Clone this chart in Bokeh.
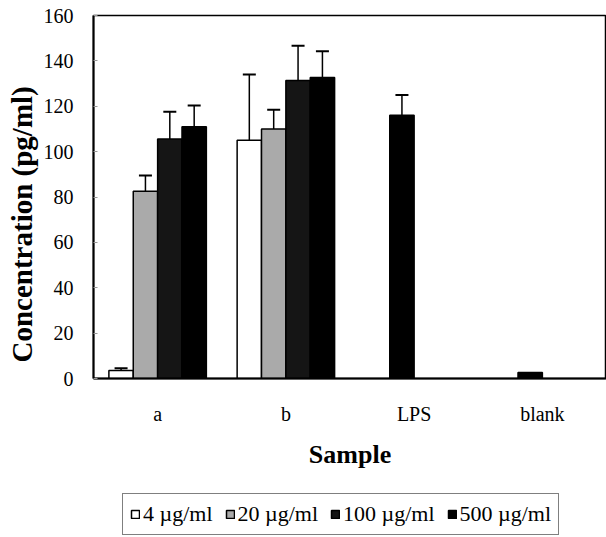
from bokeh.plotting import figure
from bokeh.layouts import column
from bokeh.models import (ColumnDataSource, FactorRange, Range1d, FixedTicker, Whisker,
                          TeeHead, Legend, LegendItem, Title)
from bokeh.transform import dodge
from bokeh.embed import file_html
from bokeh.resources import INLINE

# ---- data ----
samples = ["a", "b", "LPS", "blank"]
series_labels = ["4 \u00b5g/ml", "20 \u00b5g/ml", "100 \u00b5g/ml", "500 \u00b5g/ml"]
conc_4 = [3.5, 105.0, None, None]
err_4 = [1.0, 29.0, None, None]
conc_20 = [82.5, 110.0, None, None]
err_20 = [7.0, 8.5, None, None]
conc_100 = [105.6, 131.3, None, None]
err_100 = [12.0, 15.4, None, None]
conc_500 = [111.0, 132.7, None, None]
err_500 = [9.3, 11.5, None, None]
control = [None, None, 116.0, 2.6]
err_control = [None, None, 9.0, None]
y_ticks = [0, 20, 40, 60, 80, 100, 120, 140, 160]

SERIF = "Liberation Serif"
W = 0.19

p = figure(width=606, height=492, x_range=FactorRange(factors=samples, range_padding=0),
           y_range=Range1d(0, 160), output_backend="svg", toolbar_location=None,
           min_border_left=93, min_border_right=0, min_border_top=15, min_border_bottom=114)
p.grid.visible = False
p.outline_line_color = "black"
p.outline_line_width = 1.5
p.background_fill_color = "white"
p.border_fill_color = "white"

styles = [
    dict(fill_color="white"),
    dict(fill_color="#aaaaaa"),
    dict(fill_color="#151515"),
    dict(fill_color="#000000"),
]
all_vals = [conc_4, conc_20, conc_100, conc_500]
all_errs = [err_4, err_20, err_100, err_500]


def add_errors(vals, errs, off):
    ecats = [c for c, v, e in zip(samples, vals, errs) if v is not None and e is not None]
    lo = [v for v, e in zip(vals, errs) if v is not None and e is not None]
    hi = [v + e for v, e in zip(vals, errs) if v is not None and e is not None]
    esrc = ColumnDataSource(dict(cat=ecats, lower=lo, upper=hi))
    p.add_layout(Whisker(base=dodge("cat", off, range=p.x_range), lower="lower", upper="upper",
                         source=esrc, dimension="height", line_color="black", line_width=1.5,
                         lower_head=None,
                         upper_head=TeeHead(size=13, line_width=2, line_color="black")))


sources = []
for k, (vals, errs, st) in enumerate(zip(all_vals, all_errs, styles)):
    cats = [c for c, v in zip(samples, vals) if v is not None]
    tops = [v for v in vals if v is not None]
    src = ColumnDataSource(dict(cat=cats, top=tops))
    sources.append(src)
    off = (k - 1.5) * W
    p.vbar(x=dodge("cat", off, range=p.x_range), top="top", width=W, source=src,
           line_color="black", line_width=1.5, **st)
    add_errors(vals, errs, off)

# control bars (LPS / blank)
ccats = [c for c, v in zip(samples, control) if v is not None]
ctops = [v for v in control if v is not None]
csrc = ColumnDataSource(dict(cat=ccats, top=ctops))
p.vbar(x=dodge("cat", -0.5 * W, range=p.x_range), top="top", width=W, source=csrc,
       fill_color="black", line_color="black", line_width=1.5)
add_errors(control, err_control, -0.5 * W)

# axes
p.yaxis.ticker = FixedTicker(ticks=y_ticks)
p.yaxis.major_label_text_font = SERIF
p.yaxis.major_label_text_font_size = "20px"
p.yaxis.major_label_text_color = "black"
p.yaxis.major_label_standoff = 20
p.yaxis.major_tick_in = 4
p.yaxis.major_tick_out = 0
p.yaxis.major_tick_line_color = "#999999"
p.yaxis.minor_tick_line_color = None
p.yaxis.axis_line_width = 2
p.yaxis.axis_line_color = "black"

p.xaxis.major_label_text_font = SERIF
p.xaxis.major_label_text_font_size = "20px"
p.xaxis.major_label_text_color = "black"
p.xaxis.major_label_standoff = 18
p.xaxis.major_tick_line_color = None
p.xaxis.axis_line_width = 2
p.xaxis.axis_line_color = "black"
p.xaxis.axis_label = "Sample"
p.xaxis.axis_label_text_font = SERIF
p.xaxis.axis_label_text_font_size = "26px"
p.xaxis.axis_label_text_font_style = "bold"
p.xaxis.axis_label_text_color = "black"
p.xaxis.axis_label_standoff = 12

ytitle = Title(text="Concentration (pg/ml)", align="left", offset=16,
               text_font=SERIF, text_font_size="29px", text_font_style="bold",
               text_color="black", standoff=5)
p.add_layout(ytitle, "left")

# ---- legend strip ----
lg = figure(width=606, height=45, output_backend="svg", toolbar_location=None,
            x_axis_type=None, y_axis_type=None,
            min_border_left=93, min_border_right=0, min_border_top=0, min_border_bottom=0)
lg.grid.visible = False
lg.outline_line_color = None
lg.border_fill_color = "white"
leg_renderers = [lg.vbar(x="top", top="top", width=1, source=src, line_color="black",
                         line_width=1.5, visible=False, **st)
                 for src, st in zip(sources, styles)]
legend = Legend(items=[LegendItem(label=lab, renderers=[r]) for lab, r in zip(series_labels, leg_renderers)],
                orientation="horizontal", location=(29, 2),
                label_text_font=SERIF, label_text_font_size="22px", label_text_color="black",
                glyph_width=10, glyph_height=10, label_standoff=3, spacing=12,
                padding=7, margin=0, border_line_color="black", border_line_width=1,
                background_fill_color="white", background_fill_alpha=1.0)
lg.add_layout(legend, "center")

open("out.html", "w").write(file_html(column(p, lg, spacing=0), INLINE))
